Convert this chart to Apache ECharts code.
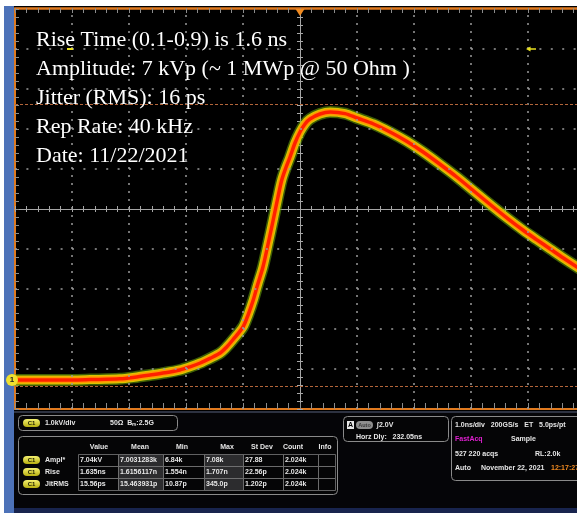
<!DOCTYPE html>
<html>
<head>
<meta charset="utf-8">
<title>Pulse capture</title>
<script src="https://cdn.jsdelivr.net/npm/echarts@6/dist/echarts.min.js"></script>
<style>
  html, body { margin: 0; padding: 0; background: #fff; }
  #chart { width: 577px; height: 513px; }
</style>
</head>
<body>
<div id="chart"></div>
<script>
// Acquired pulse: time (ns, 0 = trigger) and amplitude (kV, 0 = channel ground)
const timeNs = [-5.0, -4.5, -4.0, -3.68, -3.16, -2.9, -2.63, -2.37, -2.11, -1.93, -1.75, -1.58, -1.4, -1.29, -1.18, -1.0,
  -0.91, -0.82, -0.74, -0.65, -0.56, -0.47, -0.39, -0.32, -0.25, -0.175, -0.088, 0.0, 0.088, 0.175, 0.35, 0.53, 0.79,
  1.0, 1.29, 1.58, 1.87, 2.16, 2.45, 2.75, 3.07, 3.39, 3.65, 3.91, 4.15, 4.39, 4.62, 4.86, 5.0];
const voltsKV = [0.00, 0.00, 0.00, 0.01, 0.03, 0.07, 0.125, 0.18, 0.25, 0.33, 0.425, 0.54, 0.675, 0.82, 1.0, 1.325,
  1.63, 2.0, 2.4, 2.825, 3.4, 4.0, 4.55, 5.0, 5.3, 5.575, 5.925, 6.2, 6.4, 6.525, 6.65, 6.70, 6.66,
  6.55, 6.40, 6.20, 5.97, 5.70, 5.40, 5.075, 4.70, 4.325, 4.03, 3.75, 3.51, 3.275, 3.05, 2.825, 2.70];

// Amplitude measurement levels (kV): high and low
const amplLevels = [6.89, -0.15];

// Graticule divisions (off-centre), in screen divisions
const divisions = [-4, -3, -2, -1, 1, 2, 3, 4];

// Annotation lines
const notes = [
  'Rise Time (0.1-0.9) is 1.6 ns',
  'Amplitude: 7 kVp (~ 1 MWp @ 50 Ohm )',
  'Jitter (RMS): 16 ps',
  'Rep Rate: 40 kHz',
  'Date: 11/22/2021'
];

// Measurement table
const measHeaders = ['Value', 'Mean', 'Min', 'Max', 'St Dev', 'Count', 'Info'];
const measNames = ['Ampl*', 'Rise', 'JitRMS'];
const measAmpl = ['7.04kV', '7.0031283k', '6.84k', '7.08k', '27.88', '2.024k', ''];
const measRise = ['1.635ns', '1.6156117n', '1.554n', '1.707n', '22.56p', '2.024k', ''];
const measJit = ['15.56ps', '15.463931p', '10.87p', '345.0p', '1.202p', '2.024k', ''];

// Status readouts
const channelInfo = ['1.0kV/div', '50\u03A9  B\u2098:2.5G'];
const triggerInfo = ['\u222B2.0V', 'Horz Dly:   232.05ns'];
const acqInfo = ['1.0ns/div   200GS/s   ET   5.0ps/pt', 'FastAcq', 'Sample', '527 220 acqs', 'RL:2.0k',
  'Auto', 'November 22, 2021', '12:17:27'];

const ORANGE = '#e07a1f';
const DOT = '#9a9a9a';
const CROSS = '#a6a6a6';
const TICK = '#8c8c8c';

const trace = timeNs.map((t, i) => [t, voltsKV[i]]);

function traceSeries(width, color, extra) {
  return Object.assign({
    type: 'line', xAxisIndex: 0, yAxisIndex: 3, data: trace,
    showSymbol: false, smooth: 0.3, silent: true, z: 3,
    lineStyle: { width: width, color: color, cap: 'round', join: 'round' }
  }, extra || {});
}

// ---------- status panel below the graticule ----------
const panel = [];
const FONT = 'bold 7px "Liberation Sans", Arial, sans-serif';
function txt(x, y, s, color, align, font) {
  panel.push({ type: 'text', x: x, y: y, z: 100,
    style: { text: s, fill: color || '#e6e6e6', font: font || FONT, align: align || 'left', verticalAlign: 'middle' } });
}
function box(x, y, w, h, r, fill, stroke, lw) {
  panel.push({ type: 'rect', z: 99, shape: { x: x, y: y, width: w, height: h, r: r || 0 },
    style: { fill: fill || 'none', stroke: stroke || null, lineWidth: lw || 1 } });
}
function pill(x, y, label) {
  panel.push({ type: 'rect', z: 100, shape: { x: x, y: y - 4, width: 17, height: 8, r: 4 },
    style: { fill: new echarts.graphic.LinearGradient(0, 0, 0, 1, [
      { offset: 0, color: '#f4f070' }, { offset: 1, color: '#b8b010' }]) } });
  panel.push({ type: 'text', x: x + 8.5, y: y, z: 101,
    style: { text: label, fill: '#202000', font: 'bold 6px "Liberation Sans", Arial, sans-serif', align: 'center', verticalAlign: 'middle' } });
}

// channel box
box(18.5, 415.5, 159, 15, 4, '#050506', '#8a8a8a');
pill(23, 423, 'C1');
txt(45, 423, channelInfo[0]);
txt(110, 423, channelInfo[1]);

// measurement table
box(18.5, 436.5, 319, 58, 4, '#050506', '#8a8a8a');
const colEdges = [78, 118, 163, 204, 243, 283, 318, 335];
const headerX = [99, 140, 182, 227, 262, 293, 325];
measHeaders.forEach((h, i) => txt(headerX[i], 447, h, '#e6e6e6', 'center'));
[measAmpl, measRise, measJit].forEach((row, r) => {
  const top = 454 + r * 12;
  pill(23, top + 6, 'C1');
  txt(45, top + 6, measNames[r]);
  row.forEach((v, c) => {
    const shaded = (c === 1 || c === 3);
    box(colEdges[c] + 0.5, top + 0.5, colEdges[c + 1] - colEdges[c], 12, 0,
      shaded ? '#2c2c2e' : '#050506', '#7a7a7a', 0.8);
    if (v) txt(colEdges[c] + 2, top + 6.5, v);
  });
});

// trigger box
box(343.5, 416.5, 105, 25, 4, '#050506', '#8a8a8a');
panel.push({ type: 'rect', z: 100, shape: { x: 347, y: 421, width: 7, height: 8 }, style: { fill: '#e8e8e8' } });
txt(350.5, 425, 'A', '#000', 'center');
panel.push({ type: 'rect', z: 100, shape: { x: 356, y: 421, width: 17, height: 8, r: 4 }, style: { fill: '#8e8e8e' } });
txt(364.5, 425, 'Auto', '#3a3a3a', 'center', 'bold 5.5px "Liberation Sans", Arial, sans-serif');
txt(377, 425, triggerInfo[0]);
txt(356, 437, triggerInfo[1]);

// acquisition box
box(451.5, 416.5, 140, 64, 4, '#050506', '#8a8a8a');
txt(455, 425, acqInfo[0]);
txt(455, 439, acqInfo[1], '#e020d0');
txt(511, 439, acqInfo[2]);
txt(455, 454, acqInfo[3]);
txt(535, 454, acqInfo[4]);
txt(455, 468, acqInfo[5]);
txt(481, 468, acqInfo[6]);
txt(551, 468, acqInfo[7], '#f08a20');

// page margins, side bar and the panel strip (the canvas background itself is black)
const frame = [
  { type: 'rect', z: 98, shape: { x: 0, y: 0, width: 577, height: 6 }, style: { fill: '#ffffff' } },
  { type: 'rect', z: 98, shape: { x: 0, y: 0, width: 4, height: 513 }, style: { fill: '#ffffff' } },
  { type: 'rect', z: 97, shape: { x: 14, y: 411, width: 563, height: 102 }, style: { fill: '#050508' } },
  { type: 'rect', z: 98, shape: { x: 14, y: 411.5, width: 563, height: 1 }, style: { fill: '#56607a' } },
  { type: 'rect', z: 98, shape: { x: 14, y: 508, width: 563, height: 5 }, style: { fill: '#18244e' } },
  { type: 'rect', z: 1, shape: { x: 4, y: 6, width: 10, height: 507 }, style: { fill: '#4d72b8' } }
];

const chart = echarts.init(document.getElementById('chart'), null, { renderer: 'canvas' });

const hidden = () => ({ show: false });
chart.setOption({
  backgroundColor: '#000000',
  animation: false,
  title: {
    text: notes.join('\n'),
    left: 36, top: 26, padding: 0,
    textStyle: { color: '#ffffff', fontFamily: '"Liberation Serif", "DejaVu Serif", serif',
      fontSize: 22, fontWeight: 'normal', lineHeight: 29 }
  },
  grid: [{
    left: 15, top: 9, width: 570, height: 400,
    show: false, containLabel: false, outerBoundsMode: 'none'
  }],
  xAxis: [
    { // time axis, crosshair at trigger level (ticks below)
      type: 'value', gridIndex: 0, min: -5, max: 5, interval: 1, position: 'bottom',
      axisLine: { show: true, onZero: true, onZeroAxisIndex: 0, lineStyle: { color: CROSS, width: 1 } },
      axisTick: { show: true, inside: false, length: 3, lineStyle: { color: CROSS } },
      minorTick: { show: true, splitNumber: 5, length: 3, lineStyle: { color: CROSS } },
      axisLabel: hidden(), splitLine: hidden()
    },
    { // crosshair ticks above
      type: 'value', gridIndex: 0, min: -5, max: 5, interval: 1, position: 'top',
      axisLine: { show: false, onZero: true, onZeroAxisIndex: 0 },
      axisTick: { show: true, inside: false, length: 3, lineStyle: { color: CROSS } },
      minorTick: { show: true, splitNumber: 5, length: 3, lineStyle: { color: CROSS } },
      axisLabel: hidden(), splitLine: hidden()
    },
    { // top edge
      type: 'value', gridIndex: 0, min: -5, max: 5, interval: 1, position: 'top', offset: 1,
      axisLine: { show: true, onZero: false, lineStyle: { color: ORANGE, width: 2.5 } },
      axisTick: { show: true, inside: true, length: 5, lineStyle: { color: TICK } },
      minorTick: { show: true, splitNumber: 5, length: 5, lineStyle: { color: TICK } },
      axisLabel: hidden(), splitLine: hidden()
    },
    { // bottom edge
      type: 'value', gridIndex: 0, min: -5, max: 5, interval: 1, position: 'bottom',
      axisLine: { show: true, onZero: false, lineStyle: { color: ORANGE, width: 2 } },
      axisTick: { show: true, inside: true, length: 6, lineStyle: { color: TICK } },
      minorTick: { show: true, splitNumber: 5, length: 6, lineStyle: { color: TICK } },
      axisLabel: hidden(), splitLine: hidden()
    }
  ],
  yAxis: [
    { // vertical graticule, crosshair at screen centre (ticks left)
      type: 'value', gridIndex: 0, min: -5, max: 5, interval: 1, position: 'left',
      axisLine: { show: true, onZero: true, onZeroAxisIndex: 0, lineStyle: { color: CROSS, width: 1 } },
      axisTick: { show: true, inside: false, length: 3, lineStyle: { color: CROSS } },
      minorTick: { show: true, splitNumber: 5, length: 3, lineStyle: { color: CROSS } },
      axisLabel: hidden(), splitLine: hidden()
    },
    { // crosshair ticks right
      type: 'value', gridIndex: 0, min: -5, max: 5, interval: 1, position: 'right',
      axisLine: { show: false, onZero: true, onZeroAxisIndex: 0 },
      axisTick: { show: true, inside: false, length: 3, lineStyle: { color: CROSS } },
      minorTick: { show: true, splitNumber: 5, length: 3, lineStyle: { color: CROSS } },
      axisLabel: hidden(), splitLine: hidden()
    },
    { // left edge
      type: 'value', gridIndex: 0, min: -5, max: 5, interval: 1, position: 'left',
      axisLine: { show: true, onZero: false, lineStyle: { color: ORANGE, width: 2 } },
      axisTick: { show: true, inside: true, length: 4, lineStyle: { color: TICK } },
      minorTick: { show: true, splitNumber: 5, length: 4, lineStyle: { color: TICK } },
      axisLabel: hidden(), splitLine: hidden()
    },
    { // channel 1 in kV: 1 kV/div, ground 4.275 div below centre
      type: 'value', gridIndex: 0, min: -0.725, max: 9.275, show: false,
      axisLine: { onZero: false }, splitLine: hidden()
    }
  ],
  series: [
    { // dotted division lines of the graticule
      type: 'line', xAxisIndex: 0, yAxisIndex: 0, data: [], silent: true, z: 1,
      markLine: {
        silent: true, symbol: 'none', animation: false, label: { show: false },
        data: divisions.map(d => ({ xAxis: d, lineStyle: { color: DOT, width: 1.5, type: [2, 6] } }))
          .concat(divisions.map(d => ({ yAxis: d, lineStyle: { color: DOT, width: 1.5, type: [2, 9.4] } })))
      }
    },
    traceSeries(12, 'rgba(110,170,10,0.55)'),
    traceSeries(9, '#d9c400'),
    traceSeries(6.5, '#ff9800'),
    traceSeries(3.5, '#ff2000', {
      markLine: {
        silent: true, symbol: 'none', animation: false,
        label: { show: false },
        lineStyle: { color: '#b3653a', width: 1, type: [3, 2] },
        data: amplLevels.map(v => ({ yAxis: v }))
      }
    }),
    {
      type: 'line', xAxisIndex: 0, yAxisIndex: 3, data: [], clip: false, silent: true, z: 5,
      markPoint: {
        silent: true, animation: false,
        data: [
          { // channel 1 ground reference
            coord: [-5, 0], symbol: 'circle', symbolSize: 12, symbolOffset: [-3, 0],
            itemStyle: { color: '#f0e030' },
            label: { show: true, formatter: '1', color: '#222', fontSize: 8, fontWeight: 'bold',
              fontFamily: '"Liberation Sans", Arial, sans-serif' }
          },
          { // trigger position
            coord: [0, 9.19], symbol: 'triangle', symbolRotate: 180, symbolSize: [9, 7],
            itemStyle: { color: '#f08a20' }, label: { show: false }
          },
          { // measurement gate marks
            coord: [-4.035, 8.275], symbol: 'rect', symbolSize: [6, 2],
            itemStyle: { color: '#e8e020' }, label: { show: false }
          },
          {
            coord: [4.0, 8.275], symbol: 'path://M0,3 L5,0 L5,2 L11,2 L11,4 L5,4 L5,6 Z', symbolSize: [10, 5],
            symbolOffset: [3, 0], itemStyle: { color: '#e8e020' }, label: { show: false }
          }
        ]
      }
    }
  ],
  graphic: frame.concat(panel)
});
</script>
</body>
</html>
